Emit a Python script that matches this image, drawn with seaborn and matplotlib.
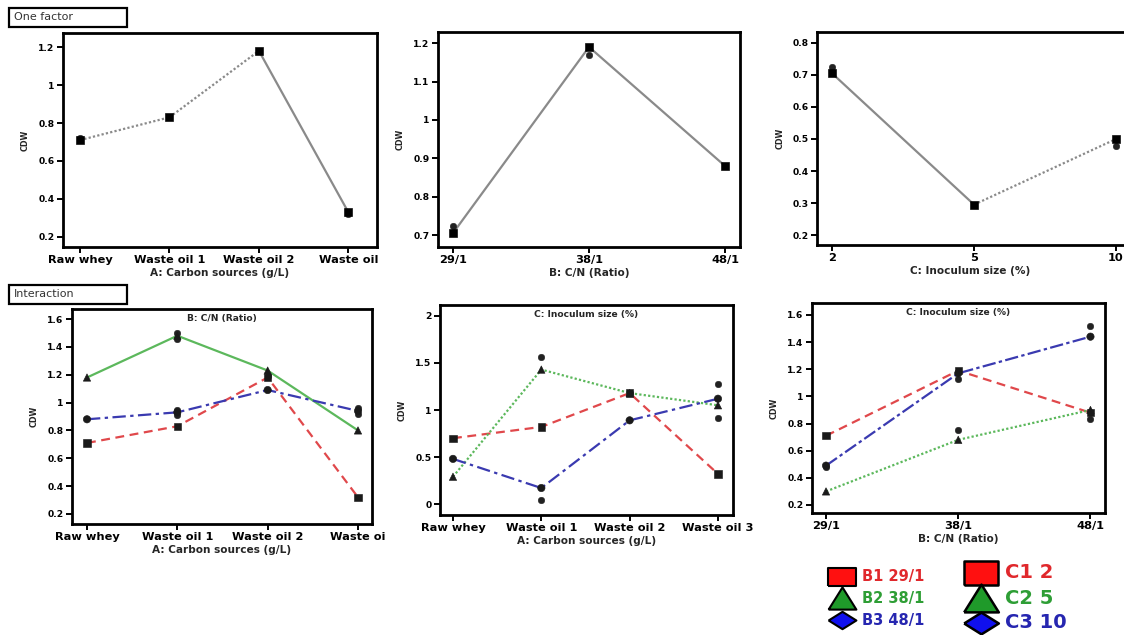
import numpy as np
import pandas as pd
import matplotlib
matplotlib.use("Agg")
import matplotlib.pyplot as plt
import seaborn as sns
from matplotlib.lines import Line2D
from matplotlib.patches import Rectangle

sns.set_theme(style="white")
plt.rcParams['font.family'] = ['DejaVu Sans']

# ---------------- data ----------------
A_levels_top = ["Raw whey", "Waste oil 1", "Waste oil 2", "Waste oil"]
A_levels_ab = ["Raw whey", "Waste oil 1", "Waste oil 2", "Waste oi"]
A_levels_ac = ["Raw whey", "Waste oil 1", "Waste oil 2", "Waste oil 3"]
B_levels = ["29/1", "38/1", "48/1"]
C_levels = ["2", "5", "10"]

# one-factor effects (mean prediction and replicate design points)
A_mean = [0.71, 0.83, 1.18, 0.33]
A_rep = [0.72, 0.83, 1.18, 0.32]
A_seg = ["dot", "dot", "solid"]          # line style of each segment
B_mean = [0.705, 1.19, 0.88]
B_rep = [0.725, 1.17, 0.88]
B_seg = ["solid", "solid"]
C_mean = [0.705, 0.295, 0.50]
C_rep = [0.725, 0.295, 0.478]
C_seg = ["solid", "dot"]

# interaction AB (lines = B levels)
AB_B1 = [0.71, 0.83, 1.18, 0.32]
AB_B2 = [1.18, 1.48, 1.23, 0.80]
AB_B3 = [0.88, 0.93, 1.09, 0.94]
AB_rep_x = [1, 1, 1, 1, 3, 3, 2]
AB_rep_y = [1.50, 1.46, 0.95, 0.91, 0.96, 0.92, 1.19]

# interaction AC (lines = C levels)
AC_C1 = [0.70, 0.82, 1.18, 0.32]
AC_C2 = [0.29, 1.43, 1.18, 1.05]
AC_C3 = [0.48, 0.17, 0.89, 1.12]
AC_rep_x = [1, 1, 3, 3, 2]
AC_rep_y = [1.56, 0.04, 1.28, 0.92, 1.18]

# interaction BC (lines = C levels)
BC_C1 = [0.71, 1.19, 0.88]
BC_C2 = [0.30, 0.68, 0.90]
BC_C3 = [0.49, 1.17, 1.44]
BC_rep_x = [1, 2, 2, 1, 0]
BC_rep_y = [0.75, 0.83, 1.52, 1.13, 0.48]

# legend labels
B_leg = ["B1 29/1", "B2 38/1", "B3 48/1"]
C_leg = ["C1 2", "C2 5", "C3 10"]

# ---------------- layout helpers ----------------
W, H = 1124, 635
fig = plt.figure(figsize=(W / 100, H / 100), dpi=100)
fig.patch.set_facecolor("white")


def rect(x0, y0, x1, y1):
    return [x0 / W, 1 - y1 / H, (x1 - x0) / W, (y1 - y0) / H]


def style_axes(ax, levels, yticks, xlim, ylim, xlabel, title=None, right_spine=True):
    ax.set_xlim(*xlim)
    ax.set_ylim(*ylim)
    ax.set_xticks(range(len(levels)))
    ax.set_xticklabels(levels, fontsize=8.2, fontweight="bold")
    ax.set_yticks(yticks)
    ax.set_yticklabels([f"{v:g}" for v in yticks], fontsize=6.6, fontweight="bold")
    ax.tick_params(axis="both", direction="out", length=4, width=1.4,
                   colors="black", pad=2, bottom=True, left=True)
    for name, sp in ax.spines.items():
        sp.set_visible(True)
        sp.set_linewidth(2.0)
        sp.set_color("black")
    if not right_spine:
        ax.spines["right"].set_visible(False)
    ax.set_xlabel(xlabel, fontsize=7.6, fontweight="bold", labelpad=2)
    ax.set_ylabel("CDW", fontsize=5.8, fontweight="bold", labelpad=6)
    ax.grid(False)
    ax.set_facecolor("white")
    if title:
        ax.text(0.5, 0.975, title, transform=ax.transAxes, ha="center", va="top",
                fontsize=6.6, fontweight="bold")


def one_factor(ax, mean, rep, seg_styles):
    x = list(range(len(mean)))
    rows = []
    for i, g in enumerate(seg_styles):
        rows.append({"x": x[i], "y": mean[i], "g": g, "seg": i})
        rows.append({"x": x[i + 1], "y": mean[i + 1], "g": g, "seg": i})
    df = pd.DataFrame(rows)
    sns.lineplot(data=df, x="x", y="y", style="g", units="seg", estimator=None,
                 dashes={"dot": (1, 1), "solid": ""}, color="#8a8a8a",
                 linewidth=1.6, legend=False, ax=ax, sort=False)
    sns.scatterplot(x=x, y=rep, marker="o", s=22, color="#222222",
                    edgecolor="#222222", ax=ax, legend=False, zorder=3)
    sns.scatterplot(x=x, y=mean, marker="s", s=30, color="black",
                    edgecolor="black", ax=ax, legend=False, zorder=4)


LINE_COLORS = {"1": "#e0484b", "2": "#5cb85c", "3": "#3a3ab0"}
LINE_DASHES = {"1": (4, 2.5), "2": (1, 1), "3": (6, 2, 1.5, 2)}
LINE_MARKERS = {"1": "s", "2": "^", "3": "o"}


def interaction(ax, series, rep_x, rep_y, dashes=LINE_DASHES):
    rows = []
    for key, vals in series.items():
        for i, v in enumerate(vals):
            rows.append({"x": i, "y": v, "lvl": key})
    df = pd.DataFrame(rows)
    sns.lineplot(data=df, x="x", y="y", hue="lvl", style="lvl",
                 palette=LINE_COLORS, dashes=dashes, linewidth=1.6,
                 legend=False, ax=ax, estimator=None)
    sns.scatterplot(x=rep_x, y=rep_y, marker="o", s=22, color="#222222",
                    edgecolor="#222222", ax=ax, legend=False, zorder=3)
    sns.scatterplot(data=df, x="x", y="y", style="lvl", markers=LINE_MARKERS,
                    s=28, color="#1a1a1a", edgecolor="#1a1a1a", ax=ax,
                    legend=False, zorder=4)


# ---------------- top row: one factor ----------------
ax1 = fig.add_axes(rect(63, 33, 377, 247))
one_factor(ax1, A_mean, A_rep, A_seg)
style_axes(ax1, A_levels_top, [0.2, 0.4, 0.6, 0.8, 1.0, 1.2], (-0.19, 3.32),
           (0.147, 1.274), "A: Carbon sources (g/L)")

ax2 = fig.add_axes(rect(438, 32, 740, 247))
one_factor(ax2, B_mean, B_rep, B_seg)
style_axes(ax2, B_levels, [0.7, 0.8, 0.9, 1.0, 1.1, 1.2], (-0.11, 2.11),
           (0.669, 1.229), "B: C/N (Ratio)")

ax3 = fig.add_axes(rect(817, 32, 1124, 245))
one_factor(ax3, C_mean, C_rep, C_seg)
style_axes(ax3, C_levels, [0.2, 0.3, 0.4, 0.5, 0.6, 0.7, 0.8], (-0.106, 2.056),
           (0.169, 0.834), "C: Inoculum size (%)", right_spine=False)

# ---------------- bottom row: interactions ----------------
ax4 = fig.add_axes(rect(72, 309, 372, 524))
interaction(ax4, {"1": AB_B1, "2": AB_B2, "3": AB_B3}, AB_rep_x, AB_rep_y,
            dashes={"1": (4, 2.5), "2": "", "3": (6, 2, 1.5, 2)})
style_axes(ax4, A_levels_ab, [0.2, 0.4, 0.6, 0.8, 1.0, 1.2, 1.4, 1.6],
           (-0.166, 3.155), (0.128, 1.672), "A: Carbon sources (g/L)",
           title="B: C/N (Ratio)")

ax5 = fig.add_axes(rect(440, 305, 733, 515))
interaction(ax5, {"1": AC_C1, "2": AC_C2, "3": AC_C3}, AC_rep_x, AC_rep_y)
style_axes(ax5, A_levels_ac, [0, 0.5, 1.0, 1.5, 2.0], (-0.147, 3.17),
           (-0.117, 2.117), "A: Carbon sources (g/L)",
           title="C: Inoculum size (%)")

ax6 = fig.add_axes(rect(812, 303, 1105, 513))
interaction(ax6, {"1": BC_C1, "2": BC_C2, "3": BC_C3}, BC_rep_x, BC_rep_y,
            dashes={"1": (4, 2.5), "2": (1, 1), "3": (6, 1.5, 1.5, 1.5)})
style_axes(ax6, B_levels, [0.2, 0.4, 0.6, 0.8, 1.0, 1.2, 1.4, 1.6],
           (-0.106, 2.11), (0.141, 1.688), "B: C/N (Ratio)",
           title="C: Inoculum size (%)")

# ---------------- section boxes ----------------
for (x0, y0, x1, y1, txt) in [(9, 8, 127, 27, "One factor"),
                              (9, 285, 127, 304, "Interaction")]:
    fig.add_artist(Rectangle((x0 / W, 1 - y1 / H), (x1 - x0) / W, (y1 - y0) / H,
                             transform=fig.transFigure, facecolor="white",
                             edgecolor="black", linewidth=1.6))
    fig.text((x0 + 5) / W, 1 - (y0 + y1) / 2 / H, txt, ha="left", va="center",
             fontsize=8, color="#333333", family="DejaVu Sans")

# ---------------- legend ----------------
rect_m = [(-1.5, -1), (1.5, -1), (1.5, 1), (-1.5, 1), (-1.5, -1)]
tri_m = [(-1.25, -1), (1.25, -1), (0, 1), (-1.25, -1)]
dia_m = [(-1.6, 0), (0, -1), (1.6, 0), (0, 1), (-1.6, 0)]
leg_fill = ["#ff1010", "#1f9a2a", "#1010ee"]
leg_text = ["#e0282c", "#2e9e35", "#2626b0"]
markers = [rect_m, tri_m, dia_m]
for i in range(3):
    yb = [577, 598, 620][i]
    fig.add_artist(Line2D([842 / W], [1 - yb / H], marker=markers[i], markersize=20,
                          markerfacecolor=leg_fill[i], markeredgecolor="black",
                          markeredgewidth=1.5, linestyle="none",
                          transform=fig.transFigure))
    fig.text(862 / W, 1 - yb / H, B_leg[i], color=leg_text[i], fontsize=10.5,
             fontweight="bold", ha="left", va="center")
    yc = [573, 598, 623][i]
    fig.add_artist(Line2D([981 / W], [1 - yc / H], marker=markers[i], markersize=25,
                          markerfacecolor=leg_fill[i], markeredgecolor="black",
                          markeredgewidth=1.8, linestyle="none",
                          transform=fig.transFigure))
    fig.text(1005 / W, 1 - yc / H, C_leg[i], color=leg_text[i], fontsize=14,
             fontweight="bold", ha="left", va="center")

fig.savefig("out.png", dpi=100, facecolor="white")
